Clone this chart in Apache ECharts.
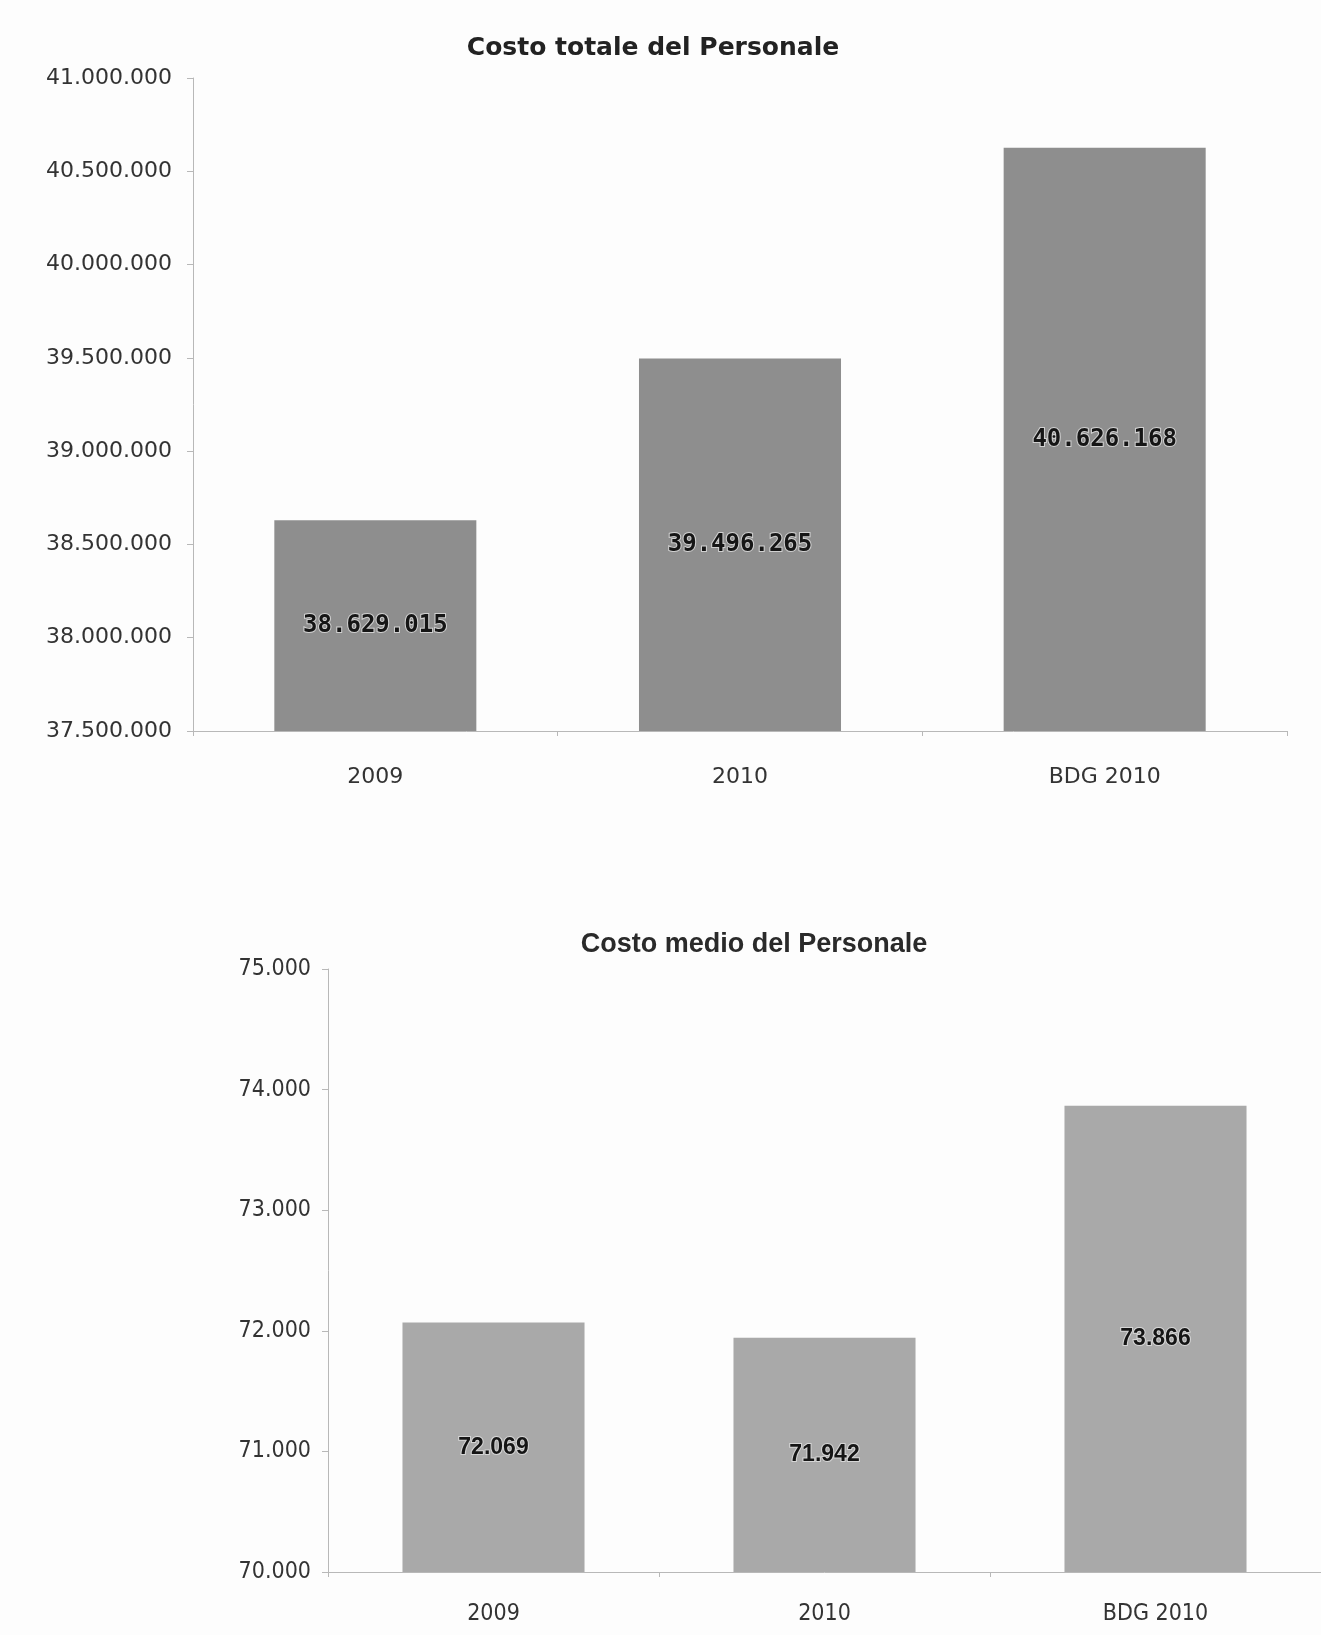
<!DOCTYPE html>
<html>
<head>
<meta charset="utf-8">
<script src="https://cdn.jsdelivr.net/npm/echarts@6/dist/echarts.min.js"></script>
<style>
html,body{margin:0;padding:0;background:#fdfdfd;}
#c{width:1321px;height:1635px;}
</style>
</head>
<body>
<div id="c"></div>
<script>
// ---- data ----
const categories = ['2009', '2010', 'BDG 2010'];
const costoTotale = [38629015, 39496265, 40626168];
const costoMedio = [72069, 71942, 73866];
const titleTotale = 'Costo totale del Personale';
const titleMedio = 'Costo medio del Personale';
const totaleAxis = { min: 37500000, max: 41000000, interval: 500000 };
const medioAxis = { min: 70000, max: 75000, interval: 1000 };

function fmtIt(v) {
  const s = Math.round(v).toString();
  return s.replace(/\B(?=(\d{3})+(?!\d))/g, '.');
}

const chart = echarts.init(document.getElementById('c'), null, { renderer: 'canvas' });

const axisLineStyle = { color: '#b8b8b8', width: 1 };

chart.setOption({
  backgroundColor: '#fdfdfd',
  animation: false,
  title: [
    {
      text: titleTotale, left: 648, top: 31, textAlign: 'center',
      textStyle: { fontFamily: 'DejaVu Sans', fontWeight: 'bold', fontSize: 25, color: '#222' }
    },
    {
      text: titleMedio, left: 749, top: 926, textAlign: 'center',
      textStyle: { fontFamily: 'Liberation Sans', fontWeight: 'bold', fontSize: 27, color: '#2a2a2a' }
    }
  ],
  grid: [
    { left: 193, top: 78, right: 34, height: 653, containLabel: false },
    { left: 328, top: 969, right: -6, height: 603, containLabel: false }
  ],
  xAxis: [
    {
      type: 'category', gridIndex: 0, data: categories,
      axisLine: { lineStyle: axisLineStyle },
      axisTick: { show: true, length: 5, lineStyle: axisLineStyle },
      axisLabel: { margin: 35, fontFamily: 'DejaVu Sans', fontSize: 22, color: '#333' }
    },
    {
      type: 'category', gridIndex: 1, data: categories,
      axisLine: { lineStyle: axisLineStyle },
      axisTick: { show: true, length: 5, lineStyle: axisLineStyle },
      axisLabel: { margin: 31, fontFamily: "'DejaVu Sans Condensed', 'DejaVu Sans'", fontSize: 23, color: '#333' }
    }
  ],
  yAxis: [
    {
      type: 'value', gridIndex: 0,
      min: totaleAxis.min, max: totaleAxis.max, interval: totaleAxis.interval,
      axisLine: { show: true, lineStyle: axisLineStyle },
      axisTick: { show: true, length: 6, lineStyle: axisLineStyle },
      splitLine: { show: false },
      axisLabel: { margin: 21, fontFamily: 'DejaVu Sans', fontSize: 22, color: '#333', formatter: fmtIt }
    },
    {
      type: 'value', gridIndex: 1,
      min: medioAxis.min, max: medioAxis.max, interval: medioAxis.interval,
      axisLine: { show: true, lineStyle: axisLineStyle },
      axisTick: { show: true, length: 6, lineStyle: axisLineStyle },
      splitLine: { show: false },
      axisLabel: { margin: 17, fontFamily: "'DejaVu Sans Condensed', 'DejaVu Sans'", fontSize: 23, color: '#333', formatter: fmtIt }
    }
  ],
  series: [
    {
      type: 'bar', xAxisIndex: 0, yAxisIndex: 0, data: costoTotale,
      barWidth: '55.4%',
      itemStyle: { color: '#8e8e8e' },
      label: {
        show: true, position: 'inside',
        fontFamily: 'DejaVu Sans Mono', fontWeight: 'bold', fontSize: 24, color: '#151515',
        textBorderColor: 'rgba(225,225,225,0.8)', textBorderWidth: 2,
        formatter: p => fmtIt(p.value)
      }
    },
    {
      type: 'bar', xAxisIndex: 1, yAxisIndex: 1, data: costoMedio,
      barWidth: '55%',
      itemStyle: { color: '#a9a9a9' },
      label: {
        show: true, position: 'inside',
        fontFamily: 'Liberation Sans', fontWeight: 'bold', fontSize: 23, color: '#151515',
        textBorderColor: 'rgba(225,225,225,0.8)', textBorderWidth: 2,
        formatter: p => fmtIt(p.value)
      }
    }
  ]
});
</script>
</body>
</html>
